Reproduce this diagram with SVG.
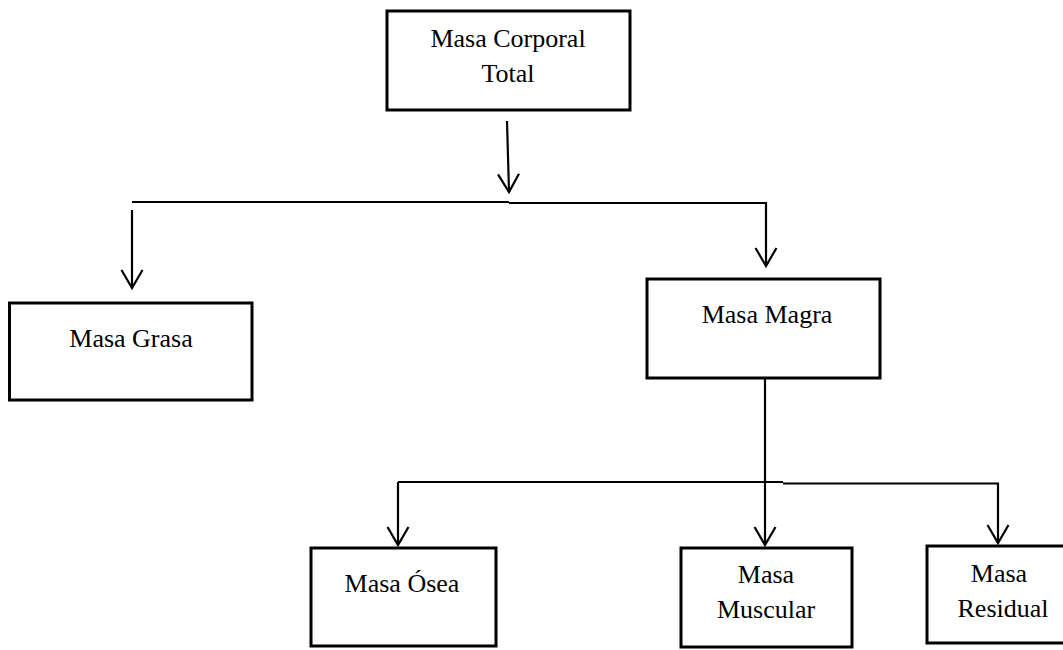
<svg xmlns="http://www.w3.org/2000/svg" width="1063" height="650" viewBox="0 0 1063 650">
  <style>
    .box { fill: #ffffff; stroke: #000000; stroke-width: 3; }
    .lbl { font-family: "Liberation Serif", "Times New Roman", serif; font-size: 26px; fill: #000000; text-anchor: middle; }
    .wire { fill: none; stroke: #000000; stroke-width: 2.2; }
  </style>
  <defs>
    <marker id="chevron" markerUnits="userSpaceOnUse" orient="auto" refX="0" refY="0" markerWidth="20" markerHeight="24" overflow="visible">
      <path d="M -18 -10.5 L 0 0 L -18 10.5" fill="none" stroke="#000000" stroke-width="2.2"/>
    </marker>
  </defs>

  <rect width="1063" height="650" fill="#ffffff"/>

  <!-- connectors -->
  <g id="connectors">
    <line class="wire" x1="507" y1="121" x2="509" y2="192" marker-end="url(#chevron)"/>
    <line class="wire" x1="132" y1="202" x2="509" y2="202"/>
    <line class="wire" x1="509" y1="203" x2="767" y2="203"/>
    <line class="wire" x1="132" y1="210" x2="132" y2="288" marker-end="url(#chevron)"/>
    <line class="wire" x1="766" y1="202" x2="766" y2="266" marker-end="url(#chevron)"/>

    <line class="wire" x1="765" y1="379" x2="765" y2="545" marker-end="url(#chevron)"/>
    <line class="wire" x1="398" y1="482" x2="783" y2="482"/>
    <line class="wire" x1="783" y1="483.5" x2="999" y2="483.5"/>
    <line class="wire" x1="398" y1="482" x2="398" y2="545" marker-end="url(#chevron)"/>
    <line class="wire" x1="998" y1="483" x2="998" y2="543" marker-end="url(#chevron)"/>
  </g>

  <g id="masa-corporal-total">
    <rect class="box" x="387" y="11" width="243" height="99"/>
    <text class="lbl" x="508" y="47">Masa Corporal</text>
    <text class="lbl" x="508" y="82">Total</text>
  </g>

  <g id="masa-grasa">
    <rect class="box" x="9.5" y="303" width="242.5" height="97"/>
    <text class="lbl" x="131" y="347">Masa Grasa</text>
  </g>

  <g id="masa-magra">
    <rect class="box" x="647" y="279" width="233" height="99"/>
    <text class="lbl" x="767" y="323">Masa Magra</text>
  </g>

  <g id="masa-osea">
    <rect class="box" x="311" y="548" width="185" height="98"/>
    <text class="lbl" x="402" y="592">Masa Ósea</text>
  </g>

  <g id="masa-muscular">
    <rect class="box" x="681" y="548" width="171" height="99"/>
    <text class="lbl" x="766" y="583">Masa</text>
    <text class="lbl" x="766" y="618">Muscular</text>
  </g>

  <g id="masa-residual">
    <rect class="box" x="927" y="546" width="140" height="97"/>
    <text class="lbl" x="999" y="582">Masa</text>
    <text class="lbl" x="1003" y="617">Residual</text>
  </g>
</svg>
